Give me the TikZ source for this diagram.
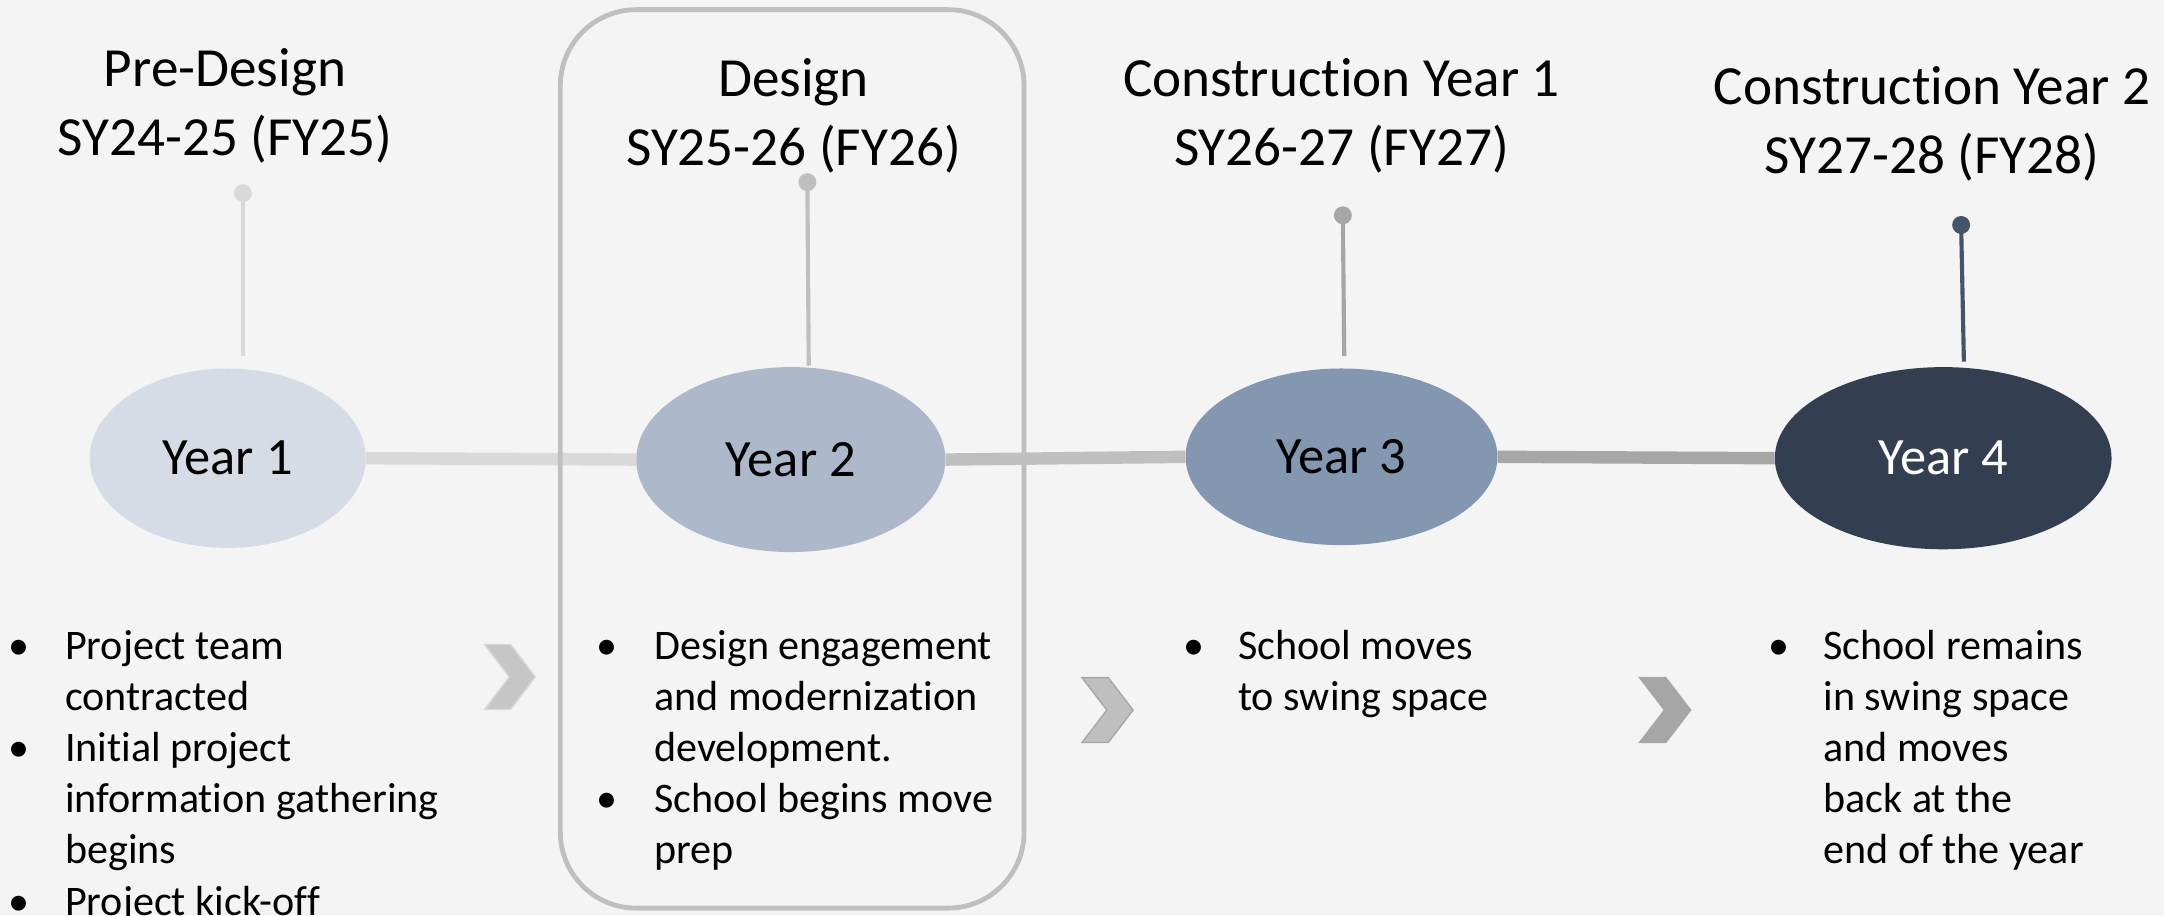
\documentclass[tikz,border=0pt]{standalone}
\usepackage{fontspec}
\setmainfont{Carlito}[Ligatures=NoCommon]
\usepackage{tikz}
\usetikzlibrary{shapes.geometric}

\definecolor{paper}{HTML}{F4F4F4}
\definecolor{yearA}{HTML}{D6DCE5}
\definecolor{yearB}{HTML}{ADB9CA}
\definecolor{yearC}{HTML}{8497B0}
\definecolor{yearD}{HTML}{333F50}
\definecolor{greyA}{HTML}{D9D9D9}
\definecolor{greyB}{HTML}{BFBFBF}
\definecolor{greyC}{HTML}{A6A6A6}
\definecolor{slate}{HTML}{44546A}
\definecolor{chevA}{HTML}{C6C6C6}

\begin{document}
\begin{tikzpicture}[x=1pt,y=-1pt]
        \tikzstyle{year} = [ellipse, inner sep=0pt, font=\fontsize{38}{46}\selectfont];
        \tikzstyle{head} = [align=center, anchor=base, inner sep=0pt, font=\fontsize{40}{50}\selectfont];
        \tikzstyle{bullets} = [anchor=base west, inner sep=0pt, font=\fontsize{30.5}{37}\selectfont];
        \tikzstyle{pin} = [circle, inner sep=0pt, minimum size=13pt];
        \tikzstyle{pinline} = [line width=3pt];
        \tikzstyle{link} = [line width=9pt];
        \tikzstyle{frame} = [greyB, line width=3.5pt, rounded corners=55pt];

        \fill[paper] (0,0) rectangle (1568,663);
        \useasboundingbox (0,0) rectangle (1568,663);

        % years on the time line
        \node [year, fill=yearA, minimum width=200pt, minimum height=130pt] (y1) at (165,332) {Year 1};
        \node [year, fill=yearB, minimum width=224pt, minimum height=134pt] (y2) at (573,333) {Year 2};
        \node [year, fill=yearC, minimum width=226pt, minimum height=128pt] (y3) at (972,331) {Year 3};
        \node [year, fill=yearD, minimum width=244pt, minimum height=132pt, text=white] (y4) at (1408,332) {Year 4};
        \draw [link, greyA] (y1.east) -- (y2.west);
        \draw [link, greyB] (y2.east) -- (y3.west);
        \draw [link, greyC] (y3.east) -- (y4.west);

        % pins
        \node [pin, fill=greyA] (p1) at (176,140) {};
        \node [pin, fill=greyB] (p2) at (585,132) {};
        \node [pin, fill=greyC] (p3) at (973,156) {};
        \node [pin, fill=slate] (p4) at (1421,163) {};
        \coordinate (p1end) at (176,258);
        \coordinate (p2end) at (586,265);
        \coordinate (p3end) at (974,258);
        \coordinate (p4end) at (1423,262);
        \draw [pinline, greyA] (p1.center) -- (p1end);
        \draw [pinline, greyB] (p2.center) -- (p2end);
        \draw [pinline, greyC] (p3.center) -- (p3end);
        \draw [pinline, slate] (p4.center) -- (p4end);

        % phases (base is the second line)
        \node [head] (h1) at (163,113) {Pre-Design\\SY24-25 (FY25)};
        \node [head] (h2) at (575,120) {Design\\SY25-26 (FY26)};
        \node [head] (h3) at (972,120) {Construction Year 1\\SY26-27 (FY27)};
        \node [head] (h4) at (1400,126) {Construction Year 2\\SY27-28 (FY28)};

        \draw [frame] (406,7) rectangle (742,658);

        % chevrons
        \foreach \cx/\cy/\fillc/\drawc in {351/467/chevA/greyA, 784/491/greyB/greyC, 1188/491/greyC/greyC}
            \filldraw [fill=\fillc, draw=\drawc, line width=1pt]
                (\cx,\cy) -- ++(19,0) -- ++(18,23.5) -- ++(-18,23.5) -- ++(-19,0) -- ++(18,-23.5) -- cycle;

        % notes
        \node [bullets] (n1) at (6,478) {\begin{tabular}[t]{@{}p{41pt}@{}l@{}}
            \textbullet & Project team\\
                        & contracted\\
            \textbullet & Initial project\\
                        & information gathering\\
                        & begins\\
            \textbullet & Project kick-off
        \end{tabular}};
        \node [bullets] (n2) at (432,478) {\begin{tabular}[t]{@{}p{42pt}@{}l@{}}
            \textbullet & Design engagement\\
                        & and modernization\\
                        & development.\\
            \textbullet & School begins move\\
                        & prep
        \end{tabular}};
        \node [bullets] (n3) at (857,478) {\begin{tabular}[t]{@{}p{40pt}@{}l@{}}
            \textbullet & School moves\\
                        & to swing space
        \end{tabular}};
        \node [bullets] (n4) at (1281,478) {\begin{tabular}[t]{@{}p{40pt}@{}l@{}}
            \textbullet & School remains\\
                        & in swing space\\
                        & and moves\\
                        & back at the\\
                        & end of the year
        \end{tabular}};
    \end{tikzpicture}
\end{document}
